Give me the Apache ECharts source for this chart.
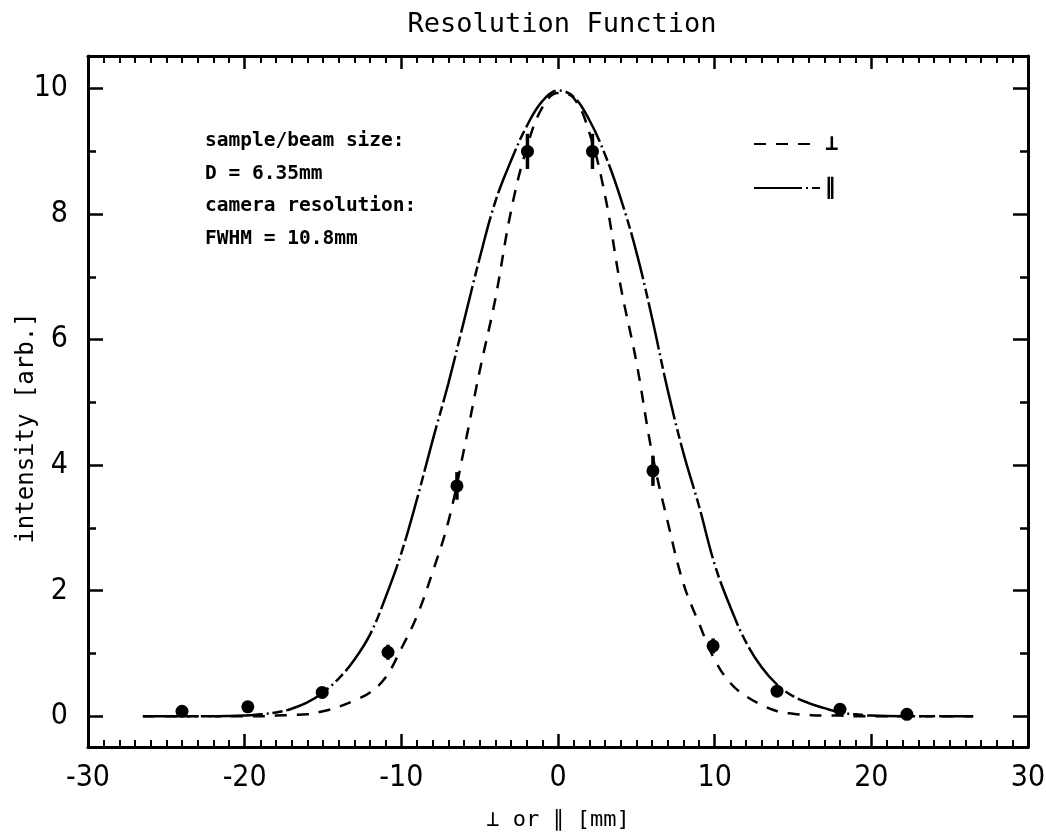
<!DOCTYPE html>
<html>
<head>
<meta charset="utf-8">
<script src="https://cdn.jsdelivr.net/npm/echarts@6/dist/echarts.min.js"></script>
<style>html,body{margin:0;padding:0;background:#fff}#c{width:1046px;height:834px}</style>
</head>
<body>
<div id="c"></div>
<script>
// ---- data ----
const perpX = [-26.5,-20,-19,-18,-17,-16,-15,-14,-13,-12,-11,-10,-9,-8,-7,-6,-5,-4,-3,-2,-1,0,1,2,3,4,5,6,7,8,9,10,11,12,13,14,15,16,17,18,19,20,26.5];
const perpY = [0,0,0,0.01,0.02,0.03,0.08,0.15,0.25,0.38,0.62,1.08,1.6,2.3,3.1,4.25,5.5,6.65,8.05,9.05,9.7,9.93,9.85,9.3,8.3,6.85,5.65,4.2,3.1,2.12,1.48,0.9,0.53,0.32,0.18,0.08,0.04,0.02,0.01,0.01,0,0,0];
const parX = [-26.5,-22,-20,-19,-18,-17,-16,-15,-14,-13,-12,-11,-10,-9,-8,-7,-6,-5,-4,-3,-2,-1,0,1,2,3,4,5,6,7,8,9,10,11,12,13,14,15,16,17,18,19,20,22,26.5];
const parY = [0,0,0.01,0.03,0.06,0.12,0.22,0.38,0.6,0.9,1.3,1.9,2.6,3.46,4.4,5.3,6.3,7.3,8.2,8.85,9.4,9.8,9.97,9.87,9.5,8.95,8.25,7.4,6.35,5.2,4.2,3.35,2.42,1.74,1.18,0.78,0.5,0.32,0.21,0.13,0.06,0.03,0.01,0,0];
const ptX = [-24.0,-19.8,-15.05,-10.85,-6.45,-1.95,2.2,6.06,9.9,13.98,18.0,22.27];
const ptY = [0.08,0.15,0.38,1.02,3.67,9.0,9.0,3.91,1.12,0.40,0.11,0.03];
const ptErr = [0.05,0.06,0.08,0.12,0.22,0.28,0.28,0.24,0.12,0.08,0.06,0.05];
const yMajor = [0,2,4,6,8,10];
const yMinor = [1,3,5,7,9];
const seriesNames = ['\u22A5','\u2225'];
const notes = ['sample/beam size:','D = 6.35mm','camera resolution:','FWHM = 10.8mm'];
const yName = 'intensity [arb.]';

const mono = '"DejaVu Sans Mono", monospace';
const narrow = '"Liberation Sans Narrow", "DejaVu Sans Condensed", "Liberation Sans", sans-serif';
const zip = (a,b) => a.map((v,i)=>[v,b[i]]);

const chart = echarts.init(document.getElementById('c'), null, {renderer:'canvas'});
const axisLine = {show:true, onZero:false, lineStyle:{color:'#000', width:3}};
function xAx(pos, showLabel){
  return {type:'value', position:pos, min:-30, max:30, interval:10,
    axisLine:axisLine, splitLine:{show:false},
    axisTick:{show:true, inside:true, length:13, lineStyle:{color:'#000', width:2.5}},
    minorTick:{show:true, splitNumber:10, length:7, lineStyle:{color:'#000', width:2}},
    axisLabel:{show:showLabel, color:'#000', fontFamily:narrow, fontSize:30, margin:16,
      formatter: v => (v<0?'-':'')+Math.abs(v)},
    name: showLabel ? '\u22A5 or \u2225 [mm]' : '', nameLocation:'middle', nameGap:62,
    nameTextStyle:{color:'#000', fontFamily:mono, fontSize:22}};
}
function yAx(pos, vals, len, showLabel, showLine){
  return {type:'value', position:pos, min:-0.49, max:10.52,
    axisLine: showLine ? axisLine : {show:false, onZero:false}, splitLine:{show:false},
    axisTick:{show:true, inside:true, length:len, customValues:vals, lineStyle:{color:'#000', width:2.5}},
    axisLabel:{show:showLabel, customValues:vals, color:'#000', fontFamily:narrow, fontSize:30, margin:20}};
}

const option = {
  backgroundColor:'#fff',
  animation:false,
  title:{text:'Resolution Function', left:557, textAlign:'center', top:6,
    textStyle:{color:'#000', fontFamily:mono, fontSize:27, fontWeight:'normal'}},
  grid:{left:88, right:18, top:56, bottom:87, containLabel:false, outerBoundsMode:'none'},
  legend:{data:seriesNames, orient:'vertical', left:748, top:128, itemWidth:66, itemHeight:14, itemGap:22,
    itemStyle:{opacity:0},
    textStyle:{color:'#000', fontFamily:mono, fontSize:22, fontWeight:'bold'}},
  xAxis:[xAx('bottom', true), xAx('top', false)],
  yAxis:[yAx('left', yMajor, 15, true, true), yAx('left', yMinor, 8, false, false),
         yAx('right', yMajor, 15, false, true), yAx('right', yMinor, 8, false, false)],
  graphic: notes.map((t,i)=>({type:'text', left:205, top:131 + i*32.5,
    style:{text:t, fill:'#000', font:'bold 19.5px ' + mono}})).concat([
    {type:'text', x:27, y:428, rotation:Math.PI/2,
      style:{text:yName, fill:'#000', font:'24px ' + mono, align:'center', verticalAlign:'middle'}}]),
  series:[
    {name:seriesNames[0], type:'line', data:zip(perpX,perpY), smooth:0.4, showSymbol:false, symbol:'none',
      lineStyle:{color:'#000', width:2.5, type:[12,10]}, itemStyle:{color:'#000'}},
    {name:seriesNames[1], type:'line', data:zip(parX,parY), smooth:0.4, showSymbol:false, symbol:'none',
      lineStyle:{color:'#000', width:2.5, type:[48,4,2,4,10,4]}, itemStyle:{color:'#000'}},
    {type:'custom', data: ptX.map((x,i)=>[x, ptY[i]-ptErr[i], ptY[i]+ptErr[i]]),
      renderItem:(params, api)=>{
        const a = api.coord([api.value(0), api.value(1)]);
        const b = api.coord([api.value(0), api.value(2)]);
        return {type:'line', shape:{x1:a[0], y1:a[1], x2:b[0], y2:b[1]},
          style:{stroke:'#000', lineWidth:3.5}};
      }, z:3},
    {type:'scatter', data:zip(ptX,ptY), symbol:'circle', symbolSize:13,
      itemStyle:{color:'#000', opacity:1}, z:4}
  ]
};
chart.setOption(option);
</script>
</body>
</html>
